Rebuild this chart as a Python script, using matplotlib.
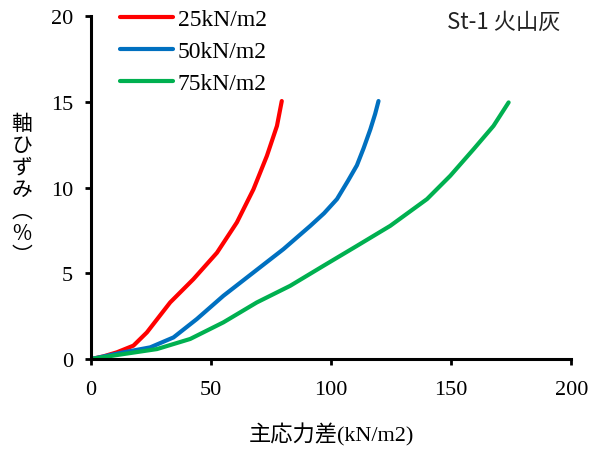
import matplotlib
matplotlib.use('Agg')
import matplotlib.pyplot as plt

# 25 kN/m2
x_25 = [0, 5, 10.7, 17.6, 23.2, 32.9, 42.6, 52.4, 60.7, 67.6, 73.2, 77.4, 79.4]
y_25 = [0, 0.15, 0.39, 0.78, 1.55, 3.3, 4.66, 6.2, 7.97, 9.9, 11.85, 13.6, 15.05]
# 50 kN/m2
x_50 = [0, 13.5, 24.6, 34.3, 44.0, 55.1, 67.6, 80.1, 91.3, 97.0, 102.4, 107.0, 110.7, 113.5, 116.3, 118.3, 119.7]
y_50 = [0, 0.39, 0.68, 1.26, 2.33, 3.69, 5.05, 6.41, 7.77, 8.5, 9.33, 10.4, 11.3, 12.3, 13.4, 14.3, 15.05]
# 75 kN/m2
x_75 = [0, 13.5, 27.4, 41.25, 55.1, 69.0, 82.9, 96.8, 110.7, 124.6, 139.9, 149.6, 159.3, 167.6, 173.9]
y_75 = [0, 0.29, 0.58, 1.17, 2.14, 3.3, 4.27, 5.44, 6.6, 7.77, 9.33, 10.69, 12.24, 13.6, 14.97]

labels = ['25kN/m2', '50kN/m2', '75kN/m2']
colors = ['#ff0000', '#0070c0', '#00b050']
x_ticks = [0, 50, 100, 150, 200]
y_ticks = [0, 5, 10, 15, 20]

serif = ['Liberation Serif', 'Noto Sans CJK JP']
cjk = ['Noto Sans CJK JP', 'DejaVu Sans']

fig = plt.figure(figsize=(5.92, 4.52), dpi=100)
ax = fig.add_axes([0.154, 0.2035, 0.811, 0.7585])

for xs, ys, lab, c in zip([x_25, x_50, x_75], [y_25, y_50, y_75], labels, colors):
    ax.plot(xs, ys, color=c, lw=3, label=lab, solid_capstyle='round')

ax.set_xlim(0, 200)
ax.set_ylim(0, 20)
ax.set_xticks(x_ticks)
ax.set_yticks(y_ticks)
for s in ['top', 'right']:
    ax.spines[s].set_visible(False)
for s in ['left', 'bottom']:
    ax.spines[s].set_linewidth(2.2)
ax.tick_params(direction='out', length=4, width=2)
ax.tick_params(axis='x', pad=11)
ax.tick_params(axis='y', pad=9)
for t in ax.get_xticklabels() + ax.get_yticklabels():
    t.set_family(serif)
    t.set_fontsize(16)

ax.set_xlabel('主応力差(kN/m2)', family=serif, fontsize=16, labelpad=17)
fig.text(0.037, 0.58, '軸\nひ\nず\nみ\n︵\n%\n︶', family=cjk, fontsize=15,
         ha='center', va='center', linespacing=1.0)

fig.text(0.946, 0.975, 'St-1 火山灰', family=cjk,
         fontsize=16, ha='right', va='top', color='#222222')

leg = ax.legend(loc='upper left', bbox_to_anchor=(0.06, 1.022), frameon=False,
                prop={'family': serif, 'size': 17}, handlelength=2.25,
                handletextpad=0.2, labelspacing=0.45, borderpad=0,
                borderaxespad=0)

fig.savefig('out.png', dpi=100)
